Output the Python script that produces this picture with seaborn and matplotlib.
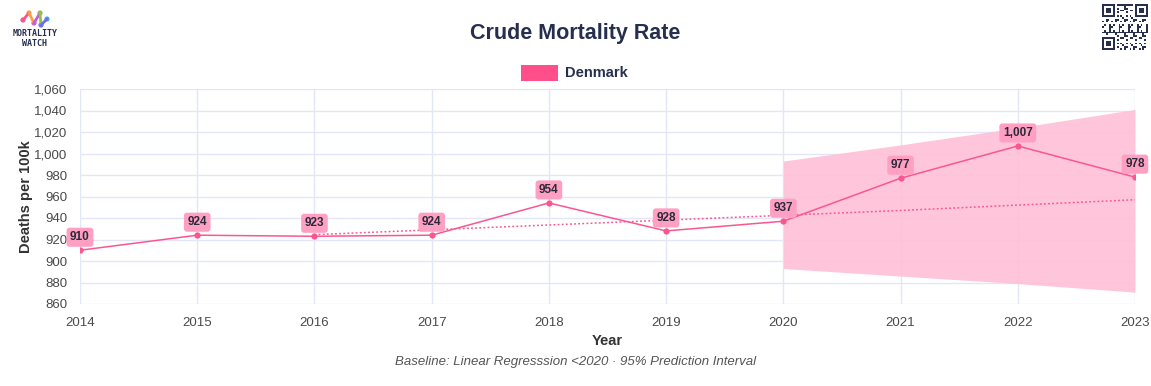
import matplotlib
matplotlib.use("Agg")
import matplotlib.pyplot as plt
import seaborn as sns
import pandas as pd
import numpy as np
from matplotlib.patches import Rectangle, Circle
from matplotlib.ticker import FuncFormatter, MultipleLocator

years = [2014, 2015, 2016, 2017, 2018, 2019, 2020, 2021, 2022, 2023]
cmr = [910, 924, 923, 924, 954, 928, 937, 977, 1007, 978]

baseline_years = [2016, 2017, 2018, 2019, 2020, 2021, 2022, 2023]
baseline = [924.5, 929, 933.5, 938, 942.5, 947, 952, 957]

pi_years = [2020, 2021, 2022, 2023]
pi_upper = [993, 1008, 1024, 1041]
pi_lower = [893, 886, 879, 871]

title = "Crude Mortality Rate"
series_name = "Denmark"
xlabel = "Year"
ylabel = "Deaths per 100k"
caption = "Baseline: Linear Regresssion <2020 · 95% Prediction Interval"

LINE = "#fa5790"
BAND = "#ffc2d9"
LABELBOX = "#ff9fc2"
NAVY = "#262f4d"
GRID = "#e3e6f7"
TICK = "#4a4a4a"

sns.set_theme(style="white")
plt.rcParams["font.family"] = ["Liberation Sans", "DejaVu Sans"]

W, H = 1151, 386
fig = plt.figure(figsize=(W/100, H/100), dpi=100)
ax = fig.add_axes([80/W, 1-304/H, (1135-80)/W, (304-89)/H])

df = pd.DataFrame({"year": years, "cmr": cmr})
bdf = pd.DataFrame({"year": baseline_years, "base": baseline})

ax.fill_between(pi_years, pi_lower, pi_upper, color=BAND, alpha=0.95, linewidth=0, zorder=1)
sns.lineplot(data=bdf, x="year", y="base", ax=ax, color=LINE, linestyle=(0, (1.2, 1.5)),
             linewidth=1.1, zorder=3)
sns.lineplot(data=df, x="year", y="cmr", ax=ax, color=LINE, linewidth=1.1,
             marker="o", markersize=4.5, markeredgewidth=0, zorder=4)

for x, y in zip(years, cmr):
    ax.annotate(f"{y:,}", (x, y), xytext=(0, 7), textcoords="offset pixels",
                ha="center", va="bottom", fontsize=8.5, fontweight="bold", color="#2a2a3a", zorder=6,
                bbox=dict(boxstyle="round,pad=0.3,rounding_size=0.25", fc=LABELBOX, ec="none"),
                annotation_clip=False)

ax.set_xlim(2014, 2023)
ax.set_ylim(860, 1060)
ax.xaxis.set_major_locator(MultipleLocator(1))
ax.yaxis.set_major_locator(MultipleLocator(20))
ax.yaxis.set_major_formatter(FuncFormatter(lambda v, p: f"{int(v):,}"))
ax.xaxis.set_major_formatter(FuncFormatter(lambda v, p: f"{int(v)}"))
ax.grid(True, color=GRID, linewidth=1.0, zorder=0)
ax.set_axisbelow(True)
for s in ax.spines.values():
    s.set_visible(False)
ax.tick_params(axis="both", which="major", length=7, width=1, color=GRID,
               labelsize=9.5, labelcolor=TICK, pad=2)
ax.set_xlabel(xlabel, fontsize=10.5, fontweight="bold", color="#333333", labelpad=4)
ax.set_ylabel(ylabel, fontsize=10.5, fontweight="bold", color="#333333", labelpad=1)

fig.text(0.5, 1-33/H, title, ha="center", va="center", fontsize=15.5, fontweight="bold", color=NAVY)
# legend
fig.patches.append(Rectangle((521/W, 1-81/H), 37/W, 16/H, transform=fig.transFigure,
                             fc="#ff4f8a", ec="none"))
fig.text(565/W, 1-73/H, series_name, ha="left", va="center", fontsize=10.5,
         fontweight="bold", color=NAVY)
fig.text(0.5, 1-362/H, caption, ha="center", va="center", fontsize=9.5,
         style="italic", color="#555555")

# logo (decorative)
lax = fig.add_axes([18/W, 1-29/H, 34/W, 22/H])
lax.set_xlim(0, 34)
lax.set_ylim(22, 0)
lax.axis("off")
nodes = {"p": (5, 13, "#f7578c"), "o": (11, 6, "#f9a03f"), "g": (22, 6, "#8fc640"),
         "b": (29, 12, "#49a6f2"), "m": (16, 16, "#c85ad9"), "v": (23, 18, "#6a6ff0")}
for a, b in [("p", "o"), ("o", "m"), ("m", "g"), ("g", "v"), ("v", "b")]:
    lax.plot([nodes[a][0], nodes[b][0]], [nodes[a][1], nodes[b][1]], color=nodes[a][2],
             linewidth=2, solid_capstyle="round")
for cx, cy, c in nodes.values():
    lax.add_patch(Circle((cx, cy), 2.6, fc=c, ec="none"))
fig.text(35/W, 1-34/H, "MORTALITY", ha="center", va="center", fontsize=6,
         fontweight="bold", color=NAVY, family="DejaVu Sans Mono")
fig.text(35/W, 1-43/H, "WATCH", ha="center", va="center", fontsize=6,
         fontweight="bold", color=NAVY, family="DejaVu Sans Mono")

# QR-like decoration
qax = fig.add_axes([1102/W, 1-50/H, 46/W, 46/H])
qax.set_xlim(0, 25)
qax.set_ylim(25, 0)
qax.axis("off")
n = 25
for i in range(n):
    for j in range(n):
        in_finder = (i < 8 and j < 8) or (i < 8 and j >= n-8) or (i >= n-8 and j < 8)
        if in_finder:
            continue
        if (i * 7 + j * 3 + (i * j) % 5) % 3 == 0:
            qax.add_patch(Rectangle((j, i), 1, 1, fc=NAVY, ec="none"))
for fx, fy in [(0, 0), (n-7, 0), (0, n-7)]:
    qax.add_patch(Rectangle((fx, fy), 7, 7, fc=NAVY, ec="none"))
    qax.add_patch(Rectangle((fx+1, fy+1), 5, 5, fc="white", ec="none"))
    qax.add_patch(Rectangle((fx+2, fy+2), 3, 3, fc=NAVY, ec="none"))

fig.savefig("out.png", dpi=100)
